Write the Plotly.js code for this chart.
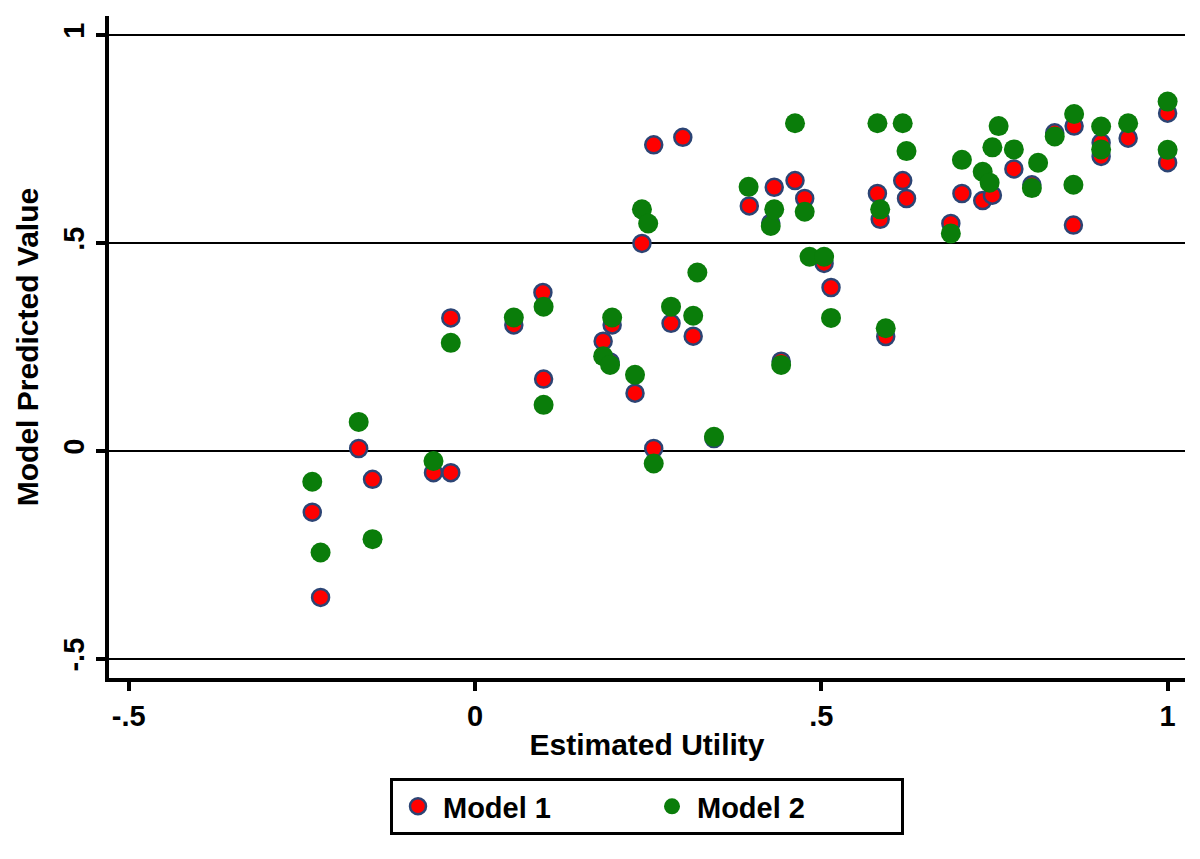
<!DOCTYPE html>
<html>
<head>
<meta charset="utf-8">
<script src="https://cdn.plot.ly/plotly-3.0.1.min.js"></script>
<style>html,body{margin:0;padding:0;background:#fff;}#chart{width:1200px;height:859px;}</style>
</head>
<body>
<div id="chart"></div>
<script>
// Model 1 (red markers)
const model1X = [-0.235, -0.223, -0.168, -0.148, -0.060, -0.035, -0.035, 0.056, 0.098, 0.099,
  0.185, 0.195, 0.198, 0.231, 0.241, 0.258, 0.258, 0.283, 0.300, 0.315,
  0.345, 0.396, 0.427, 0.432, 0.442, 0.462, 0.476, 0.504, 0.514, 0.581,
  0.585, 0.593, 0.6175, 0.623, 0.687, 0.703, 0.733, 0.747, 0.778, 0.804,
  0.837, 0.865, 0.864, 0.904, 0.904, 0.943, 1.0, 1.0];
const model1Y = [-0.147, -0.352, 0.006, -0.068, -0.052, -0.052, 0.320, 0.303, 0.381, 0.173,
  0.264, 0.214, 0.303, 0.139, 0.499, 0.736, 0.006, 0.307, 0.754, 0.276,
  0.030, 0.589, 0.548, 0.634, 0.216, 0.650, 0.607, 0.451, 0.393, 0.619,
  0.557, 0.275, 0.650, 0.607, 0.547, 0.619, 0.602, 0.615, 0.678, 0.640,
  0.765, 0.781, 0.543, 0.741, 0.708, 0.752, 0.812, 0.693];

// Model 2 (green markers)
const model2X = [-0.235, -0.223, -0.168, -0.148, -0.060, -0.035, 0.056, 0.099, 0.099, 0.185,
  0.195, 0.198, 0.231, 0.241, 0.250, 0.258, 0.283, 0.315, 0.321, 0.345,
  0.395, 0.427, 0.432, 0.442, 0.462, 0.476, 0.483, 0.504, 0.514, 0.581,
  0.585, 0.593, 0.6175, 0.623, 0.687, 0.703, 0.733, 0.743, 0.747, 0.756,
  0.778, 0.804, 0.813, 0.837, 0.865, 0.864, 0.904, 0.904, 0.943, 1.0, 1.0];
const model2Y = [-0.074, -0.244, 0.070, -0.212, -0.024, 0.260, 0.321, 0.347, 0.111, 0.228,
  0.207, 0.321, 0.183, 0.581, 0.547, -0.030, 0.347, 0.325, 0.429, 0.034,
  0.635, 0.541, 0.581, 0.207, 0.788, 0.575, 0.467, 0.467, 0.320, 0.788,
  0.581, 0.295, 0.788, 0.721, 0.523, 0.700, 0.671, 0.645, 0.730, 0.781,
  0.725, 0.632, 0.693, 0.756, 0.810, 0.640, 0.780, 0.725, 0.788, 0.840, 0.724];

const tickVals = [-0.5, 0, 0.5, 1];
const tickText = ['-.5', '0', '.5', '1'];

const FONT = 'Liberation Sans, Arial, sans-serif';

const traces = [
  {
    type: 'scatter', mode: 'markers', name: 'Model 1',
    x: model1X, y: model1Y,
    marker: {color: '#ff0000', size: 17, line: {color: '#2c4474', width: 2.5}}
  },
  {
    type: 'scatter', mode: 'markers', name: 'Model 2',
    x: model2X, y: model2Y,
    marker: {color: '#0a7d0a', size: 20, line: {width: 0}}
  }
];

const layout = {
  width: 1200, height: 859,
  paper_bgcolor: '#ffffff', plot_bgcolor: '#ffffff',
  margin: {l: 109, r: 15, t: 16, b: 181},
  font: {family: FONT, color: '#000', size: 28, weight: 'bold'},
  showlegend: true,
  xaxis: {
    range: [-0.5285, 1.0251],
    tickvals: tickVals, ticktext: tickText,
    showgrid: false, zeroline: false,
    showline: true, linecolor: '#000', linewidth: 4,
    ticks: 'outside', ticklen: 9, tickwidth: 4, tickcolor: '#000',
    tickfont: {family: FONT, size: 29, color: '#000', weight: 'bold'},
    title: {text: 'Estimated Utility', font: {family: FONT, size: 30, color: '#000', weight: 'bold'}, standoff: 4}
  },
  yaxis: {
    range: [-0.5457, 1.0457],
    tickvals: tickVals, ticktext: tickText,
    tickangle: -90,
    showgrid: true, gridcolor: '#000', gridwidth: 2,
    zeroline: false,
    showline: true, linecolor: '#000', linewidth: 4,
    ticks: 'outside', ticklen: 9, tickwidth: 4, tickcolor: '#000',
    tickfont: {family: FONT, size: 29, color: '#000', weight: 'bold'},
    title: {text: 'Model Predicted Value', font: {family: FONT, size: 30, color: '#000', weight: 'bold'}, standoff: 12}
  },
  legend: {
    orientation: 'h',
    x: 0.5, xanchor: 'center',
    y: -0.151, yanchor: 'top',
    bordercolor: '#000', borderwidth: 3,
    bgcolor: '#fff',
    itemwidth: 40,
    entrywidth: 199,
    font: {family: FONT, size: 29, color: '#000', weight: 'bold'}
  }
};

Plotly.newPlot('chart', traces, layout, {displayModeBar: false, staticPlot: true});
</script>
</body>
</html>
